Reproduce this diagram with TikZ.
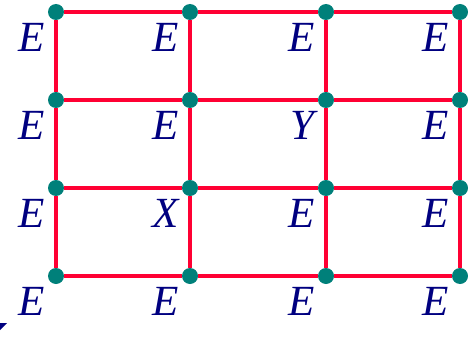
\documentclass[tikz,border=0pt]{standalone}
\usepackage{fontspec}
\setmainfont{Liberation Serif}
\usepackage{tikz}
\usetikzlibrary{positioning}
\definecolor{gridred}{HTML}{FF0033}
\definecolor{dotteal}{HTML}{00807A}
\definecolor{labnavy}{HTML}{000080}

\begin{document}
\begin{tikzpicture}[
  x=1pt,y=-1pt,
  dot/.style={circle,fill=dotteal,inner sep=0pt,minimum size=16pt},
  edge/.style={draw=gridred,line width=3.6pt},
  lab/.style={font=\fontsize{43}{50}\selectfont\itshape,text=labnavy,
              inner sep=0pt,xshift=-24pt,yshift=-25pt}
]
\useasboundingbox (0,0) rectangle (468,353);

% row 1
\node[dot,label={[lab]center:E}] (a1) at (56,12)  {};
\node[dot,label={[lab]center:E}] (a2) at (190,12) {};
\node[dot,label={[lab]center:E}] (a3) at (326,12) {};
\node[dot,label={[lab]center:E}] (a4) at (460,12) {};
% row 2
\node[dot,label={[lab]center:E}] (b1) at (56,100)  {};
\node[dot,label={[lab]center:E}] (b2) at (190,100) {};
\node[dot,label={[lab]center:Y}] (b3) at (326,100) {};
\node[dot,label={[lab]center:E}] (b4) at (460,100) {};
% row 3
\node[dot,label={[lab]center:E}] (c1) at (56,188)  {};
\node[dot,label={[lab]center:X}] (c2) at (190,188) {};
\node[dot,label={[lab]center:E}] (c3) at (326,188) {};
\node[dot,label={[lab]center:E}] (c4) at (460,188) {};
% row 4
\node[dot,label={[lab]center:E}] (d1) at (56,276)  {};
\node[dot,label={[lab]center:E}] (d2) at (190,276) {};
\node[dot,label={[lab]center:E}] (d3) at (326,276) {};
\node[dot,label={[lab]center:E}] (d4) at (460,276) {};

% horizontal
\draw[edge] (a1) -- (a2) -- (a3) -- (a4);
\draw[edge] (b1) -- (b2) -- (b3) -- (b4);
\draw[edge] (c1) -- (c2) -- (c3) -- (c4);
\draw[edge] (d1) -- (d2) -- (d3) -- (d4);
% vertical
\draw[edge] (a1) -- (b1) -- (c1) -- (d1);
\draw[edge] (a2) -- (b2) -- (c2) -- (d2);
\draw[edge] (a3) -- (b3) -- (c3) -- (d3);
\draw[edge] (a4) -- (b4) -- (c4) -- (d4);

% cut-off mark
\fill[labnavy] (0,323) -- (7,323) -- (0,330) -- cycle;
\end{tikzpicture}
\end{document}
